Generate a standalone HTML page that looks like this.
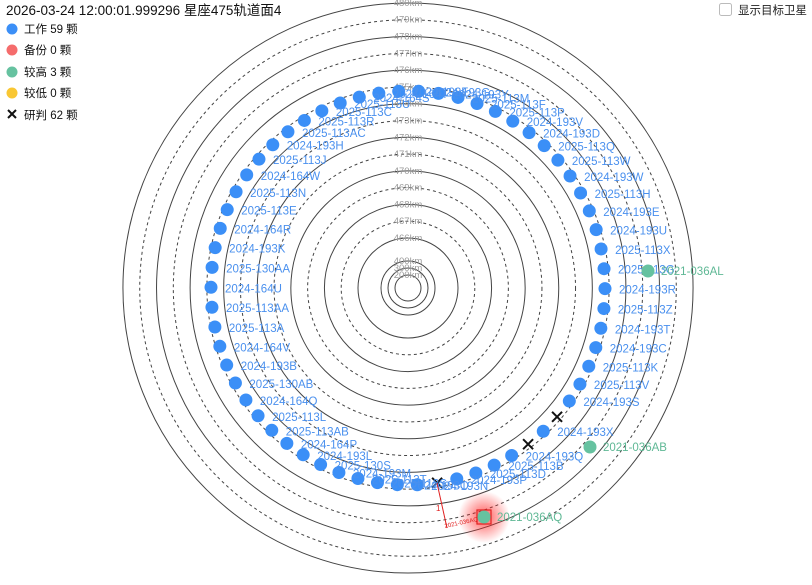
<!DOCTYPE html>
<html><head><meta charset="utf-8"><style>
html,body{margin:0;padding:0;background:#fff;width:812px;height:585px;overflow:hidden}
svg{position:absolute;left:0;top:0}
text{font-family:"Liberation Sans","Noto Sans CJK SC",sans-serif}
</style></head><body>
<svg id="s" width="812" height="585" xmlns="http://www.w3.org/2000/svg">
<defs><radialGradient id="g"><stop offset="0" stop-color="#ff2020" stop-opacity="0.75"/><stop offset="1" stop-color="#ff2020" stop-opacity="0"/></radialGradient></defs>
<g id="rings"></g>
<g id="kms"></g>
<circle cx="484" cy="517" r="26" fill="url(#g)"/>
<g id="dots"></g>
<line x1="437" y1="483" x2="447" y2="528" stroke="#e02020" stroke-width="1"/>
<text x="436" y="511" font-size="8" fill="#e02020">1</text>
<text x="445" y="528" font-size="6" fill="#e02020" transform="rotate(-12 445 528)">2021-036AQ 轨</text>
<rect x="477" y="510" width="14" height="14" fill="none" stroke="#e02020" stroke-width="1.2"/>
<circle cx="648" cy="271" r="6.5" fill="#66c2a0"/><text x="661" y="275" font-size="11.5" fill="#5fb895">2021-036AL</text>
<circle cx="590" cy="447" r="6.5" fill="#66c2a0"/><text x="603" y="451" font-size="11.5" fill="#5fb895">2021-036AB</text>
<circle cx="484" cy="517" r="6.5" fill="#66c2a0"/><text x="497" y="521" font-size="11.5" fill="#5fb895">2021-036AQ</text>
<text x="6" y="15" font-size="13.5" fill="#111">2026-03-24 12:00:01.999296 星座475轨道面4</text>
<circle cx="12" cy="29" r="5.5" fill="#3b8ff7"/><text x="24" y="33" font-size="11.5" fill="#111">工作 59 颗</text>
<circle cx="12" cy="50" r="5.5" fill="#f56c6c"/><text x="24" y="54" font-size="11.5" fill="#111">备份 0 颗</text>
<circle cx="12" cy="72" r="5.5" fill="#66c2a0"/><text x="24" y="76" font-size="11.5" fill="#111">较高 3 颗</text>
<circle cx="12" cy="93" r="5.5" fill="#f9c733"/><text x="24" y="97" font-size="11.5" fill="#111">较低 0 颗</text>
<path d="M8 110 L16 118 M16 110 L8 118" stroke="#111" stroke-width="2"/><text x="24" y="119" font-size="11.5" fill="#111">研判 62 颗</text>
<rect x="719.5" y="3.5" width="12" height="12" rx="2" fill="#fff" stroke="#bbb"/>
<text x="738" y="14" font-size="11.5" fill="#222">显示目标卫星</text>
</svg>
<script>
var ns="http://www.w3.org/2000/svg",cx=408,cy=288;
function el(t,a,p,txt){var e=document.createElementNS(ns,t);for(var k in a)e.setAttribute(k,a[k]);if(txt)e.textContent=txt;document.getElementById(p).appendChild(e);return e;}
for(var k=466;k<=480;k++){var r=50+(k-466)*16.79;
 el('circle',{cx:cx,cy:cy,r:r,fill:'none',stroke:'#444','stroke-width':1,'stroke-dasharray':(k%2?'3,3':'none')},'rings');
 el('text',{x:cx,y:cy-r+3,'font-size':9.5,fill:'#999','text-anchor':'middle'},'kms',k+'km');}
[[27,400],[20,300],[13,200]].forEach(function(a){el('circle',{cx:cx,cy:cy,r:a[0],fill:'none',stroke:'#444'},'rings');
 el('text',{x:cx,y:cy-a[0]+3,'font-size':9.5,fill:'#999','text-anchor':'middle'},'kms',a[1]+'km');});
var L=["","2024-193N","2024-193O","2025-113S","2025-113T","2024-193M","2025-130S","2024-193L","2024-164P","2025-113AB","2025-113L","2024-164Q","2025-130AB","2024-193B","2024-164V","2025-113A","2025-113AA","2024-164U","2025-130AA","2024-193K","2024-164R","2025-113E","2025-113N","2024-164W","2025-113J","2024-193H","2025-113AC","2025-113R","2025-113C","2025-113U","2024-164S","2024-164T","2024-193F","2024-193G","2024-193Y","2025-113M","2025-113F","2025-113P","2024-193V","2024-193D","2025-113Q","2025-113W","2024-193W","2025-113H","2024-193E","2024-193U","2025-113X","2025-113G","2024-193R","2025-113Z","2024-193T","2024-193C","2025-113K","2025-113V","2024-193S","","2024-193X","","2024-193Q","2025-113B","2025-113D","2024-193P"];
for(var n=0;n<62;n++){var a=(81.5+5.806*n)*Math.PI/180,R=197,x=cx+R*Math.cos(a),y=cy+R*Math.sin(a);
 if(n==0||n==55||n==57){el('path',{d:'M'+(x-5)+' '+(y-5)+'L'+(x+5)+' '+(y+5)+'M'+(x+5)+' '+(y-5)+'L'+(x-5)+' '+(y+5),stroke:'#111','stroke-width':2},'dots');continue;}
 el('circle',{cx:x,cy:y,r:6.5,fill:'#3b8ff7'},'dots');}
for(var n=0;n<62;n++){if(!L[n])continue;var a=(81.5+5.806*n)*Math.PI/180,x=cx+197*Math.cos(a),y=cy+197*Math.sin(a);
 el('text',{x:x+14,y:y+5,'font-size':11.5,fill:'#4a90ee'},'dots',L[n]);}
</script>
</body></html>
